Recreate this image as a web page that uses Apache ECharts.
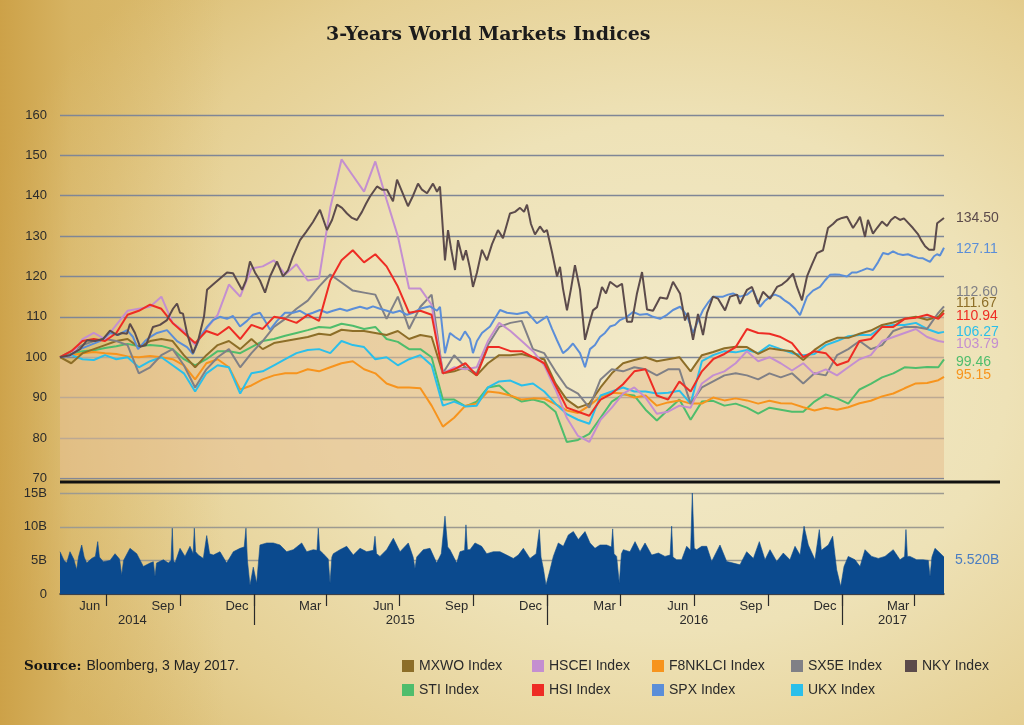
<!DOCTYPE html>
<html>
<head>
<meta charset="utf-8">
<script src="https://cdn.jsdelivr.net/npm/echarts@6/dist/echarts.min.js"></script>
<style>
html,body{margin:0;padding:0;}
#chart{width:1024px;height:725px;
background:
 linear-gradient(90deg, rgba(200,152,58,0.75) 0%, rgba(206,162,70,0.35) 7%, rgba(210,170,80,0) 22%),
 radial-gradient(ellipse 72% 78% at 66% 52%, #f2eaca 0%, #eee2b7 45%, #e5cf92 78%, #dbbd72 100%);
}
</style>
</head>
<body>
<div id="chart"></div>
<script>
// ---------------- DATA ----------------
const DAY = 86400000;
function ts(s){const p=s.split('-').map(Number);return Date.UTC(p[0],p[1]-1,p[2]);}
const startDate = '2014-05-05';
const endDate = '2017-05-08';
const stepDays = 14; // bi-weekly sampling of most index lines

const seriesNames = ['MXWO Index','HSCEI Index','F8NKLCI Index','SX5E Index','NKY Index','STI Index','HSI Index','SPX Index','UKX Index'];
const seriesColors = ['#8d6e28','#c48fd0','#f7941d','#808086','#5c4b4b','#4fbd6c','#ee2c24','#5b8ed8','#2bbfea'];

const mxwo = [100,98.5,101,102,103,104,104.5,102.5,104,104.5,
104,100.5,97.5,100.5,103,104,102,104.5,102,103.5,
104,104.5,105,105.8,105.5,106.8,106.5,106.5,106,105.5,
106.5,104.5,105.5,105,96,96.5,97.5,95.5,98.5,100.5,
100.5,100.8,100,99.5,93.5,89.5,87.5,88.5,92.5,96,
98.5,99.3,100,99,99.5,100,96.5,100.5,101.3,102.2,
102.6,102.5,100.8,102.2,101.8,101.5,99.3,101.8,103.7,104.8,
104.8,105.8,106.6,108,108.6,109.5,110,109.3,110,111.67];

const hscei = [100,100.5,104.5,106,104.5,108,111.5,112,112.5,115,
108.5,106.5,103,107,110.5,118,115,122,122.5,124,
120.5,123,119,119.5,137,149,145,141,148.5,139,
130,117,117,113,96,97.5,97,97.5,104,108.5,
106.5,104,101.5,98,92,85,80.5,79,84.5,87.5,
91,92.5,90,86,86.5,88,87.5,93.5,95.5,96.5,
98.5,101.5,99,100,98.5,96.7,98.5,95.8,97,95.5,
97.5,99.5,100.5,104,105,106,107,105,104,103.79];

const f8nklci = [100,100.5,101,101.3,101,100.8,100.2,100,100.3,100,
99.5,98,94.5,98.5,99.5,97.5,92,93,94.5,95.5,
96,96,97,96.5,97.5,98.5,99,97,96,93.5,
92.5,92.5,92.3,88,82.8,85,88,88.5,91.5,91.2,
90.5,89.5,89.8,89.7,88.4,86.8,86.2,88,90.2,91.2,
91,90,90.5,88,88.8,89.3,88.5,88.5,90,89.3,
89.8,89.3,88.5,89.2,88.6,88.5,87.6,86.8,87.5,87,
87.6,88.6,89.2,90.3,91,92.3,93.5,93.6,94.3,95.15];

const sx5e = [100,101.5,103,104,104.5,104,103,96,97.5,100.5,
102,98,92.5,97,100,102,97.5,101,104,107.5,
109.5,112,114,117.5,120.5,118.5,116.5,116,115.5,109.5,
115,107,112.5,115.5,96,100.5,97.5,96,103,107.5,
108.5,109,102,101,96.5,92.5,91,87.5,94.5,97,
96.5,97.5,97,95.5,97,97,88.5,92.5,94,95.5,
96,95.5,94.5,96,95,96,93.5,96,95.5,100.5,
102,104,102,103,106.5,107.5,107.5,107,111,112.6];

// NKY is read at a finer step: day offsets from start date and values
const nkyDays = [0,12.4,24.9,33.6,43.5,53.5,62.2,70.9,77.1,83.3,
87,93.2,99.5,106.9,115.6,124.3,133,140.5,145.5,149.2,
152.9,157.9,165.3,171.6,179,182.8,190.2,198.9,207.6,215.1,
220,226.3,231.2,236.2,242.4,248.6,254.9,261.1,269.8,277.2,
283.4,289.7,298.4,305.8,314.5,323.2,331.9,338.2,344.4,350.6,
356.8,363,369.2,375.4,380.4,385.4,394.1,400.3,406.5,414,
419,425.2,432.6,438.9,445.1,450,456.3,463.7,468.7,472.4,
478.6,482.4,486.1,491.1,494.8,501,504.7,509.7,513.4,518.4,
524.6,530.8,537.1,544.5,550.7,555.7,559.4,565.7,571.9,576.9,
580.6,585.5,590.5,596.7,601.7,605.4,611.7,617.9,621.6,625.3,
630.3,635.3,640.2,646.5,652.7,658.9,662.6,667.6,673.8,678.8,
683.8,692.5,698.7,704.9,711.1,717.3,723.6,729.8,737.3,746,
754.7,762.1,770.8,777,780.7,787,793.2,799.4,804.4,811.8,
818.1,826.8,833,841.7,845.4,854.1,860.3,867.8,874,882.7,
891.4,897.6,903.8,911.3,916.2,922.4,928.7,934.9,941.1,948.6,
954.8,961,966,972.2,978.4,985.9,990.8,994.6,1000.8,1004.5,
1010.7,1015.7,1021.9,1028.1,1033.1,1038.1,1044.3,1049.2,1053,1060.4,
1066.6,1070.6,1075.5,1080.5,1086.7,1090.5,1099];
const nky = [100,100.5,102,104.2,104,104.5,106.6,105.5,106,105.8,
108.3,106,102.6,103,107.5,108,109.2,112,113.3,111,
110.8,106,101,104,110,116.7,118,119.5,121,120.8,
119,116.7,119,123.7,121,119,116,120,123.7,120,
121.5,125,129,131,133.5,136.5,131.5,134,137.8,137,
135.6,134.5,134,136,138,139.8,142.3,141.5,141.5,138.6,
144,141,137.4,140,143,141.5,140.6,143,141,142.3,
124,131.5,127,121.6,129,124,126.5,122,117.4,121,
126.6,124,128,131.5,129.5,133,135.6,136,137,136,
137.8,133,130.4,132.4,131,131.5,126,120,122.4,117,
111.6,117,122.8,116.7,104.3,109,111.6,112.4,117.4,115.8,
118.7,117.4,118.2,108.8,108.8,115.8,121.1,111.8,111.5,114.8,
114.5,118.7,115.8,109.1,111,104.3,110.7,105.5,111,115,
114.5,111.6,115,115.5,113.2,116.7,117.4,113.2,116.2,114.5,
117.4,118,119,120.7,117.4,114.1,120,123,125.8,126.5,
132,133,134,134.5,134.8,132,133.5,134.8,129.8,134,
130.6,132,133.6,132.5,134,134.8,134,134.4,133.6,132,
130.5,129,127.5,126.6,126.6,133.2,134.5];

// SPX is also read at a finer step
const spxDays = [0,12.4,24.9,37.3,49.7,62.2,72.1,83.3,90.8,97,
105.7,111.9,120.6,133,145.5,157.9,165.3,174,182.8,190.2,
198.9,207.6,215.1,223.8,232.5,239.9,248.6,254.9,261.1,269.8,
279.7,289.7,298.4,307.1,314.5,323.2,331.9,339.4,348.1,356.8,
364.3,373,381.7,389.1,397.8,406.5,414,422.7,431.4,438.9,
447.6,460,468.7,472.4,478.6,484.8,491.1,497.3,503.5,509.7,
513.4,518.4,524.6,534.6,547,555.7,568.2,580.6,593,605.4,
611.7,617.9,625.3,631.5,637.7,646.5,652.7,658.9,665.1,671.3,
677.5,683.8,690,696.2,704.9,712.4,721.1,729.8,737.3,746,
754.7,762.1,770.8,779.5,787,793.2,799.4,805.6,811.8,818.1,
824.3,830.5,836.7,845.4,854.1,861.5,870.2,876.5,882.7,888.9,
895.1,901.3,907.5,913.8,920,928.7,936.1,944.8,951,957.3,
963.5,969.7,978.4,984.6,990.8,997.1,1003.3,1010.7,1016.9,1023.2,
1029.4,1035.6,1041.8,1048,1054.2,1060.4,1066.6,1072.9,1077.8,1081.6,
1086.6,1090.3,1094,1099];
const spx = [100,100.5,102,103,104,106,105.5,106.7,105,102,
104,105,106,106.7,104,102.5,100.8,105,107.5,109.2,
110,109.5,110.2,107.6,109,110.5,111,109,106.8,109,
111,111,111.5,110.5,111,111.7,111,111.5,112,111.5,
112,112.5,112,112.6,112,111.5,111,111.5,110.5,111,
112,112.6,111.5,112.5,101,106,105,104.2,106.4,104.5,
101,104,106,107.6,111.7,111,110.7,111.2,108.4,110.1,
107,104.2,101,102,103.4,101,97.5,102,103,105,
106,107.6,108,109.2,110,111.2,110.5,110.7,110,109.5,
110.5,111.7,112.5,110.3,106,109,111.7,113.5,115,115,
115,115.5,115.8,115,115.5,116.7,112.5,114,115,115.5,
115,114,113.2,112,110.4,115,116.5,117.4,119,120.4,
120.5,120.4,120,121,121,121.5,122,121.6,123.5,125.8,
125.5,126.2,125.6,125.3,125.5,125,124.6,124.5,124,123.6,
125,125.5,125.2,127.11];

const sti = [100,100.8,101.5,101.7,102.3,102.7,103.3,102.7,103,102.8,
102,99.5,98,99.5,101.5,101.5,101,102.5,104,104.5,
105.3,106,106.7,107.5,107.3,108.3,107.8,107,107.5,104.5,
103.8,102,102,100,89.5,89.5,87.8,89,92.5,93,
90.5,89,89.5,88.8,86.5,79,79.5,81,85,89,
90.8,90.5,87,84.3,87,89.5,84.5,89,89.2,88,
88.5,87.5,86,87.5,87,86.5,86.5,89,90.8,89.8,
88.5,92,93.4,95,96,97.5,97.3,97.6,97.5,99.46];

const hsi = [100,101.5,104,104.5,104,106,110.5,111.5,113,112,
108.5,106,103.5,106.5,105.5,107.5,104.5,108,107,110,
109.5,108.5,110.5,109,119,124,126.5,123.5,125.5,122.5,
117.5,111,111.5,110.5,96,97,98.5,95.5,102.5,102.5,
101.5,101.5,100,98.5,93,87.5,86.5,85.5,89.5,91,
93.3,96.5,97,90.5,89.5,94,91.5,96.5,99.5,100.8,
102.5,107,106,105.8,105,103.5,100,101.5,101,98,
99,104,104.5,107.5,107.5,109.5,109.8,110.5,109.5,110.94];

const ukx = [100,100.5,99.5,99.3,100.5,99.5,100,97.5,99,100,
98,96,91.5,96,98,97.5,91,96,96.5,98,
99.5,101,101.8,102,101,104,103,102.5,99.5,100,
98,99.5,100.5,98,88,89,87.8,88,92.5,94,
94.2,93,93.5,91.5,88.5,85.9,84.5,83.5,90.5,91.5,
92.5,91.5,91.5,91,91.2,91.7,88.5,99,100.5,101.5,
101.2,101.8,101,103,102,101,100.5,100.8,103,104,
105.2,105.5,105.5,107.5,108,108,108.5,107,106,106.27];

// Volume (billions) and its day offsets from the start date
const volDays = [0,5,8.3,12.4,17,20.7,23,27,30,33.2,
39.4,44,46.9,49,53.8,62.2,68.4,74,76.7,79,
87,95.4,103.6,111.9,116,118.1,120,128.5,134.7,138,
139.6,141,143,149.2,155.4,161.6,165.5,167,168.5,172,
178.2,182.4,186,190.6,198.9,207.2,215.5,223.8,229,231.2,
233,236.2,240.3,244.5,248.6,257,265.2,273.5,281.8,290,
300.5,306.7,314.9,319.5,321.1,322.8,327.3,333.5,335.7,338,
339.8,348.1,356.4,364.6,373,381.3,389.5,391.6,393.5,397.8,
406.1,414.4,422.7,433,439,441.3,443.5,451.7,460,468.3,
474,478.6,482,484.8,493.2,497.3,503,504.7,506.5,509.7,
515.9,524.2,530.5,538.7,547,555.3,563.6,569.8,576,584.3,
592,595.9,598,600.9,604.2,609.2,613.3,619.5,625.7,632,
638.2,644.4,652.7,658.9,665.1,671.3,679.6,685.5,687.1,688.8,
692,695.3,698,700.3,708.6,714.9,721.1,727.3,735.6,743.9,
752.1,758.5,760.4,762,766.6,772.9,779.1,784,786.1,788.5,
791.5,797.8,804,810.2,820.5,828.8,837,845.4,853.7,862,
869.4,876.5,882.7,891,899.2,907.5,913.8,920,925,930.3,
938.6,944,946.5,948.9,955.2,960.6,965.6,970.6,974.7,980,
988.3,994.6,1000.8,1009.1,1017.3,1025.6,1035.9,1044.3,1050,1051.7,
1053.5,1056.7,1065,1073.3,1079.5,1081.6,1084,1087.8,1094,1099];
const volValues = [6.3,5.0,4.6,6.3,5.2,3.6,5.5,7.3,5.5,4.6,
5.3,5.6,7.8,5.5,4.8,5.0,6.0,5.2,2.8,5.0,
6.8,6.0,4.1,4.6,4.8,2.6,4.6,5.1,4.6,5.0,
9.8,5.0,4.6,6.8,5.6,7.1,6.0,9.8,6.3,5.8,
5.3,8.7,6.0,5.8,6.3,4.6,6.3,6.8,7.0,9.8,
5.0,1.3,4.0,1.6,7.3,7.6,7.6,7.3,6.3,6.6,
7.6,6.3,6.6,6.5,9.8,6.5,6.0,5.2,1.6,5.5,
6.0,6.6,7.1,5.8,6.8,6.3,6.5,8.6,6.0,5.6,
6.6,8.3,6.3,7.6,5.5,3.8,5.5,6.6,6.8,4.6,
6.0,11.6,7.0,6.6,4.6,6.3,6.5,10.3,6.6,6.6,
7.6,7.1,6.0,6.3,6.3,5.8,5.3,5.8,6.8,5.3,
6.0,9.6,5.5,3.8,1.3,3.6,5.6,7.6,7.1,8.8,
9.3,8.1,9.3,7.6,6.8,7.3,7.3,7.0,9.7,6.0,
5.6,1.6,6.0,6.6,6.3,7.8,6.3,7.6,5.8,6.1,
5.6,5.8,10.1,5.5,5.1,5.1,7.1,6.5,15.1,6.8,
6.6,7.1,7.1,4.85,7.3,4.85,4.6,4.35,6.3,5.3,
7.8,5.1,6.6,4.85,6.1,5.1,7.1,5.8,10.1,7.3,
5.1,9.6,6.5,6.3,7.3,8.6,3.6,1.1,4.1,5.6,
5.1,4.1,6.6,5.6,5.3,5.6,6.6,5.1,5.6,9.6,
5.6,5.6,5.1,5.1,5.0,2.6,5.5,6.8,6.1,5.52];

const yTicksMain = [70,160,10];      // min, max, interval
const yTicksVol = [0,15,5];
const quarterTicks = ['2014-07-01','2014-10-01','2015-01-01','2015-04-01','2015-07-01','2015-10-01','2016-01-01','2016-04-01','2016-07-01','2016-10-01','2017-01-01','2017-04-01'];
const monthLabelDates = ['2014-06-11','2014-09-10','2014-12-11','2015-03-12','2015-06-11','2015-09-10','2015-12-11','2016-03-12','2016-06-11','2016-09-10','2016-12-11','2017-03-12'];
const monthNames = ['Jan','Feb','Mar','Apr','May','Jun','Jul','Aug','Sep','Oct','Nov','Dec'];
const yearTicks = ['2015-01-01','2016-01-01','2017-01-01'];
const yearLabelDates = ['2014-08-03','2015-07-02','2016-07-01','2017-03-05'];

// ---------------- BUILD ----------------
const startTs = ts(startDate), endTs = ts(endDate);
const lineDates = [];
for (let i = 0; i < mxwo.length - 1; i++) lineDates.push(startTs + i * stepDays * DAY);
lineDates.push(endTs);

const pairs = arr => lineDates.map((t, i) => [t, arr[i]]);
const dayPairs = (days, vals) => days.map((d, i) => [startTs + d * DAY, vals[i]]);
const dataByName = {
  'MXWO Index': pairs(mxwo), 'HSCEI Index': pairs(hscei), 'F8NKLCI Index': pairs(f8nklci), 'SX5E Index': pairs(sx5e),
  'NKY Index': dayPairs(nkyDays, nky), 'SPX Index': dayPairs(spxDays, spx),
  'STI Index': pairs(sti), 'HSI Index': pairs(hsi), 'UKX Index': pairs(ukx)
};
const labelShift = {
  'MXWO Index': -7, 'HSCEI Index': 2, 'F8NKLCI Index': -2, 'SX5E Index': -14.5,
  'NKY Index': 0, 'STI Index': 3, 'HSI Index': 3, 'SPX Index': 1.5, 'UKX Index': 0
};
const drawOrder = ['STI Index','F8NKLCI Index','UKX Index','MXWO Index','SX5E Index','HSCEI Index','SPX Index','HSI Index','NKY Index'];
const colorOf = n => seriesColors[seriesNames.indexOf(n)];

const FONT = '"Liberation Sans", Arial, sans-serif';
const SERIF = '"DejaVu Serif", serif';

const series = [];
series.push({
  name: 'MXWO area', type: 'line', xAxisIndex: 0, yAxisIndex: 0,
  data: pairs(mxwo), symbol: 'none', silent: true, z: 1,
  lineStyle: { width: 0, opacity: 0 },
  areaStyle: { color: 'rgba(229,193,146,0.85)', origin: 'start' }
});
drawOrder.forEach((n, k) => {
  series.push({
    name: n, type: 'line', xAxisIndex: 0, yAxisIndex: 0,
    data: dataByName[n], symbol: 'none', showSymbol: false, z: 3 + k,
    color: colorOf(n),
    lineStyle: { width: 2, color: colorOf(n) },
    endLabel: {
      show: true, distance: 12, offset: [0, labelShift[n]],
      formatter: p => p.value[1].toFixed(2),
      color: colorOf(n), fontSize: 14, fontFamily: FONT
    }
  });
});
series.push({
  name: 'Volume', type: 'line', xAxisIndex: 1, yAxisIndex: 1,
  data: dayPairs(volDays, volValues),
  symbol: 'none', z: 2,
  lineStyle: { width: 0.6, color: '#0b4a8e' },
  areaStyle: { color: '#0b4a8e', opacity: 1 },
  endLabel: {
    show: true, distance: 11, offset: [0, 3],
    formatter: p => p.value[1].toFixed(3) + 'B',
    color: '#4a7dc2', fontSize: 14, fontFamily: FONT
  }
});

const legendCols = [
  { left: 402, items: ['MXWO Index', 'STI Index'] },
  { left: 532, items: ['HSCEI Index', 'HSI Index'] },
  { left: 652, items: ['F8NKLCI Index', 'SPX Index'] },
  { left: 791, items: ['SX5E Index', 'UKX Index'] },
  { left: 905, items: ['NKY Index'] }
];

const option = {
  animation: false,
  backgroundColor: 'transparent',
  title: [
    { text: '3-Years World Markets Indices', left: 326, top: 26, padding: 0,
      textStyle: { fontFamily: SERIF, fontWeight: 'bold', fontSize: 19, color: '#1b1b1b' } },
    { text: '{b|Source:} {r|Bloomberg, 3 May 2017.}', left: 24, top: 657, padding: 0,
      textStyle: { rich: {
        b: { fontFamily: SERIF, fontWeight: 'bold', fontSize: 13.5, color: '#151515' },
        r: { fontFamily: FONT, fontWeight: 'normal', fontSize: 14, color: '#222' } } } }
  ],
  legend: legendCols.map(c => ({
    left: c.left, top: 659, orient: 'vertical', padding: 0, itemGap: 10,
    itemWidth: 12, itemHeight: 12, icon: 'rect', selectedMode: false,
    data: c.items,
    textStyle: { fontFamily: FONT, fontSize: 14, color: '#2a2a2a' }
  })),
  grid: [
    { left: 60, right: 80, top: 115, height: 363.3 },
    { left: 60, right: 80, top: 493.3, height: 100.7 }
  ],
  xAxis: [
    { gridIndex: 0, type: 'value', min: startTs, max: endTs, show: false, splitLine: { show: false } },
    { gridIndex: 1, type: 'value', position: 'bottom', min: startTs, max: endTs,
      axisLine: { show: true, lineStyle: { color: '#1d2533', width: 1.5 } },
      axisTick: { show: true, customValues: quarterTicks.map(ts), length: 12, lineStyle: { color: '#2a2a2a', width: 1.2 } },
      axisLabel: { customValues: monthLabelDates.map(ts), margin: 6, fontSize: 13, color: '#2b2b2b', fontFamily: FONT,
        formatter: v => monthNames[new Date(v).getUTCMonth()] },
      splitLine: { show: false } },
    { gridIndex: 1, type: 'value', position: 'bottom', offset: 0, min: startTs, max: endTs,
      axisLine: { show: false, onZero: false },
      axisTick: { show: true, customValues: yearTicks.map(ts), length: 31, lineStyle: { color: '#2a2a2a', width: 1.2 } },
      axisLabel: { customValues: yearLabelDates.map(ts), margin: 20, fontSize: 13, color: '#2b2b2b', fontFamily: FONT,
        formatter: v => String(new Date(v).getUTCFullYear()) },
      splitLine: { show: false } }
  ],
  yAxis: [
    { gridIndex: 0, type: 'value', min: yTicksMain[0], max: yTicksMain[1], interval: yTicksMain[2],
      axisLine: { show: false }, axisTick: { show: false },
      axisLabel: { margin: 13, fontSize: 13, color: '#2b2b2b', fontFamily: FONT },
      splitLine: { lineStyle: { color: '#7f8696', width: 1.3 } } },
    { gridIndex: 1, type: 'value', min: yTicksVol[0], max: yTicksVol[1], interval: yTicksVol[2],
      axisLine: { show: false }, axisTick: { show: false },
      axisLabel: { margin: 13, fontSize: 13, color: '#2b2b2b', fontFamily: FONT,
        formatter: v => v === 0 ? '0' : v + 'B' },
      splitLine: { lineStyle: { color: '#9d9a90', width: 1.3 } } }
  ],
  graphic: [
    { type: 'rect', z: 100, shape: { x: 60, y: 480.5, width: 940, height: 3 }, style: { fill: '#111' } }
  ],
  series: series
};

const chart = echarts.init(document.getElementById('chart'), null, { renderer: 'canvas' });
chart.setOption(option);
</script>
</body>
</html>
